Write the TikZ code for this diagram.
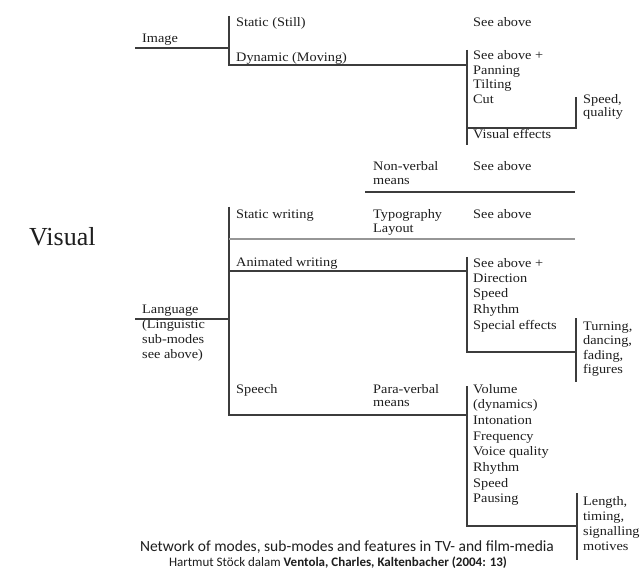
\documentclass[tikz,border=0pt]{standalone}
\usepackage{fontspec}
\setmainfont{Liberation Serif}
\newfontfamily\dfont[FakeStretch=1.1]{Liberation Serif}
\newfontfamily\capfont{Carlito}
\definecolor{lc}{RGB}{60,60,60}
\definecolor{lcl}{RGB}{150,150,150}
\definecolor{tc}{RGB}{30,30,30}
\begin{document}
\begin{tikzpicture}[x=1pt,y=-1pt,
  txt/.style={font=\dfont\fontsize{13}{14}\selectfont, text=tc, anchor=west, inner sep=0pt, text height=9pt, text depth=3pt},
  ln/.style={line width=1.4pt, draw=lc},
  lnl/.style={line width=1.8pt, draw=lcl}]
\useasboundingbox[fill=white] (0,0) rectangle (640,572);

% ---------- texts ----------
\node[font=\fontsize{26}{30}\selectfont, text=tc, anchor=west, inner sep=0pt] (visual) at (29,237) {Visual};

\node[txt] (image) at (142,40) {Image};
\node[txt] (stat) at (236,24) {Static (Still)};
\node[txt] (dyn) at (236,59) {Dynamic (Moving)};
\node[txt] (sa1) at (473,24) {See above};
\foreach \t [count=\i] in {{See above +}, {Panning}, {Tilting}, {Cut}}
  \node[txt] (d\i) at (473,{57+14.5*(\i-1)}) {\t};
\node[txt] (vfx) at (473,136) {Visual effects};
\node[txt] (spq1) at (583,101) {Speed,};
\node[txt] (spq2) at (583,114) {quality};

\node[txt] (nv1) at (373,168) {Non-verbal};
\node[txt] (nv2) at (373,182) {means};
\node[txt] (sa2) at (473,168) {See above};

\node[txt] (sw) at (236,216) {Static writing};
\node[txt] (typo) at (373,216) {Typography};
\node[txt] (layout) at (373,230) {Layout};
\node[txt] (sa3) at (473,216) {See above};

\node[txt] (aw) at (236,263) {Animated writing};
\foreach \t [count=\i] in {{See above +}, {Direction}, {Speed}, {Rhythm}, {Special effects}}
  \node[txt] (a\i) at (473,{264+15.5*(\i-1)}) {\t};
\foreach \t [count=\i] in {{Turning,}, {dancing,}, {fading,}, {figures}}
  \node[txt] (t\i) at (583,{327+14.5*(\i-1)}) {\t};

\foreach \t [count=\i] in {{Language}, {(Linguistic}, {sub-modes}, {see above)}}
  \node[txt] (l\i) at (142,{310+15.3*(\i-1)}) {\t};

\node[txt] (speech) at (236,390) {Speech};
\node[txt] (pv1) at (373,390) {Para-verbal};
\node[txt] (pv2) at (373,403) {means};
\foreach \t [count=\i] in {{Volume}, {(dynamics)}, {Intonation}, {Frequency}, {Voice quality}, {Rhythm}, {Speed}, {Pausing}}
  \node[txt] (v\i) at (473,{390+15.7*(\i-1)}) {\t};
\foreach \t [count=\i] in {{Length,}, {timing,}, {signalling}, {motives}}
  \node[txt] (g\i) at (583,{502+15*(\i-1)}) {\t};

\node[font=\capfont\fontsize{15.5}{18}\selectfont, text=tc, inner sep=0pt] (cap1) at (347,547) {Network of modes, sub-modes and features in TV- and film-media};
\node[font=\capfont\fontsize{13}{15}\selectfont, text=tc, inner sep=0pt] (cap2) at (338,563) {Hartmut Stöck dalam \textbf{Ventola, Charles, Kaltenbacher (2004: 13)}};

% ---------- junction coordinates ----------
\coordinate (imgL) at (135,48);  \coordinate (imgJ) at (229,48);
\coordinate (b1t) at (229,16);   \coordinate (b1b) at (229,65);
\coordinate (dynJ) at (467,65);
\coordinate (b2t) at (467,50);   \coordinate (b2b) at (467,145);
\coordinate (vfxL) at (467,128); \coordinate (vfxR) at (576,128);
\coordinate (b3t) at (576,97);
\coordinate (nvL) at (365,192);  \coordinate (nvR) at (575,192);
\coordinate (lanL) at (135,319); \coordinate (lanJ) at (229,319);
\coordinate (b4t) at (229,207);  \coordinate (b4b) at (229,415);
\coordinate (swL) at (229,239);  \coordinate (swR) at (575,239);
\coordinate (awL) at (229,271);  \coordinate (awR) at (467,271);
\coordinate (b5t) at (467,257);  \coordinate (b5b) at (467,352);
\coordinate (spR) at (576,352);
\coordinate (b6t) at (576,318);  \coordinate (b6b) at (576,382);
\coordinate (spchR) at (467,415);
\coordinate (b7t) at (467,386);  \coordinate (b7b) at (467,526);
\coordinate (paR) at (577,526);
\coordinate (b8t) at (577,493);  \coordinate (b8b) at (577,560);

% ---------- connectors ----------
\draw[ln] (imgL) -- (imgJ);
\draw[ln] (b1t) -- (b1b) -- (dynJ);
\draw[ln] (b2t) -- (b2b);
\draw[ln] (vfxL) -- (vfxR) -- (b3t);
\draw[ln] (nvL) -- (nvR);
\draw[ln] (lanL) -- (lanJ);
\draw[ln] (b4t) -- (b4b) -- (spchR);
\draw[lnl] (swL) -- (swR);
\draw[ln] (awL) -- (awR);
\draw[ln] (b5t) -- (b5b) -- (spR);
\draw[ln] (b6t) -- (b6b);
\draw[ln] (b7t) -- (b7b) -- (paR);
\draw[ln] (b8t) -- (b8b);
\end{tikzpicture}
\end{document}
